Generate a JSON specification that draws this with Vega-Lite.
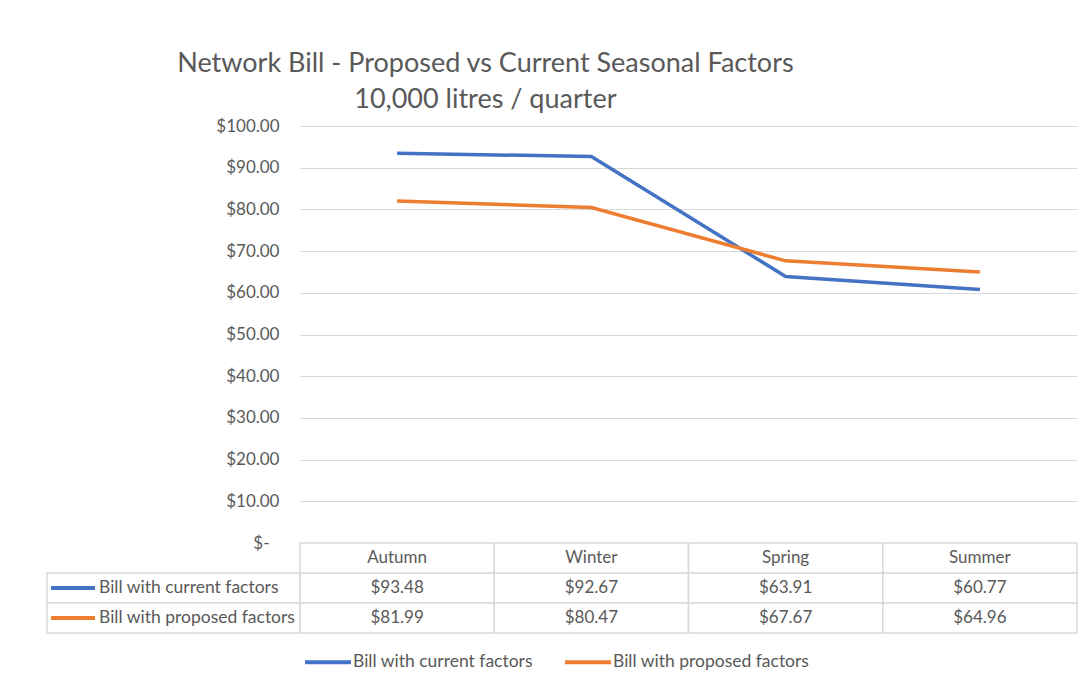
{
  "$schema": "https://vega.github.io/schema/vega-lite/v6.json",
  "background": "white",
  "padding": {"left": 43, "top": 50, "right": 10, "bottom": 10},
  "config": {"font": "Lato", "view": {"stroke": null}},
  "title": {
    "text": ["Network Bill - Proposed vs Current Seasonal Factors", "10,000 litres / quarter"],
    "fontSize": 27, "fontWeight": "normal", "color": "#595959",
    "anchor": "middle", "dx": -75, "lineHeight": 36, "offset": 3
  },
  "datasets": {
    "bills": [
      {"season": "Autumn", "series": "Bill with current factors", "value": 93.48},
      {"season": "Winter", "series": "Bill with current factors", "value": 92.67},
      {"season": "Spring", "series": "Bill with current factors", "value": 63.91},
      {"season": "Summer", "series": "Bill with current factors", "value": 60.77},
      {"season": "Autumn", "series": "Bill with proposed factors", "value": 81.99},
      {"season": "Winter", "series": "Bill with proposed factors", "value": 80.47},
      {"season": "Spring", "series": "Bill with proposed factors", "value": 67.67},
      {"season": "Summer", "series": "Bill with proposed factors", "value": 64.96}
    ]
  },
  "data": {"name": "bills"},
  "resolve": {"scale": {"color": "shared"}, "legend": {"color": "shared"}},
  "columns": 2,
  "bounds": "flush",
  "spacing": 0,
  "concat": [
    {
      "width": 253,
      "height": 417,
      "data": {"values": []},
      "mark": {"type": "point", "opacity": 0},
      "encoding": {}
    },
    {
      "width": 777,
      "height": 417,
      "mark": {"type": "line", "strokeWidth": 3.5},
      "encoding": {
        "x": {"field": "season", "type": "ordinal", "sort": ["Autumn", "Winter", "Spring", "Summer"], "scale": {"type": "point", "padding": 0.5}, "axis": null},
        "y": {
          "field": "value", "type": "quantitative",
          "scale": {"domain": [0, 100]},
          "axis": {
            "values": [0, 10, 20, 30, 40, 50, 60, 70, 80, 90, 100],
            "labelExpr": "datum.value === 0 ? '$-' : '$' + format(datum.value, '.2f')",
            "title": null, "domain": false, "ticks": false,
            "gridColor": "#d9d9d9",
            "labelPadding": {"condition": {"test": "datum.value === 0", "value": 31}, "value": 21},
            "labelFontSize": 17, "labelColor": "#595959"
          }
        },
        "color": {
          "field": "series", "type": "nominal",
          "scale": {"domain": ["Bill with current factors", "Bill with proposed factors"], "range": ["#4472C4", "#ED7D31"]},
          "legend": {
            "orient": "none", "legendX": 256, "legendY": 511, "direction": "horizontal", "title": null,
            "symbolType": "stroke", "symbolStrokeWidth": 4, "symbolSize": 2116,
            "labelFontSize": 17.5, "labelColor": "#595959", "columnPadding": 24, "labelOffset": 0, "labelLimit": 400
          }
        }
      }
    },
    {
      "width": 253,
      "height": 90,
      "transform": [{"filter": "datum.season === 'Autumn'"}],
      "layer": [
        {
          "mark": {"type": "rect", "fill": "white", "stroke": "#d9d9d9", "strokeWidth": 1.5},
          "encoding": {
            "y": {"field": "series", "type": "nominal", "scale": {"domain": ["header", "Bill with current factors", "Bill with proposed factors"], "paddingInner": 0, "paddingOuter": 0}, "axis": null}
          }
        },
        {
          "mark": {"type": "text", "align": "left", "dx": -74.5, "fontSize": 17.5, "color": "#595959"},
          "encoding": {
            "y": {"field": "series", "type": "nominal", "axis": null},
            "text": {"field": "series"}
          }
        },
        {
          "mark": {"type": "point", "shape": "stroke", "size": 1936, "strokeWidth": 4, "xOffset": -100.5, "filled": false, "opacity": 1},
          "encoding": {
            "y": {"field": "series", "type": "nominal", "axis": null},
            "color": {"field": "series", "type": "nominal"}
          }
        }
      ]
    },
    {
      "width": 777,
      "height": 90,
      "layer": [
        {
          "mark": {"type": "rect", "fill": "white", "stroke": "#d9d9d9", "strokeWidth": 1.5},
          "encoding": {
            "x": {"field": "season", "type": "nominal", "sort": ["Autumn", "Winter", "Spring", "Summer"], "scale": {"paddingInner": 0, "paddingOuter": 0}, "axis": null},
            "y": {"field": "series", "type": "nominal", "scale": {"domain": ["header", "Bill with current factors", "Bill with proposed factors"], "paddingInner": 0, "paddingOuter": 0}, "axis": null}
          }
        },
        {
          "transform": [{"filter": "datum.series === 'Bill with current factors'"}],
          "mark": {"type": "rect", "fill": "white", "stroke": "#d9d9d9", "strokeWidth": 1.5},
          "encoding": {
            "x": {"field": "season", "type": "nominal", "sort": ["Autumn", "Winter", "Spring", "Summer"], "axis": null},
            "y": {"datum": "header", "type": "nominal"}
          }
        },
        {
          "mark": {"type": "text", "fontSize": 17, "color": "#595959"},
          "encoding": {
            "x": {"field": "season", "type": "nominal", "sort": ["Autumn", "Winter", "Spring", "Summer"], "axis": null},
            "y": {"field": "series", "type": "nominal"},
            "text": {"field": "value", "type": "quantitative", "format": "$.2f"}
          }
        },
        {
          "transform": [{"filter": "datum.series === 'Bill with current factors'"}],
          "mark": {"type": "text", "fontSize": 17, "color": "#595959"},
          "encoding": {
            "x": {"field": "season", "type": "nominal", "sort": ["Autumn", "Winter", "Spring", "Summer"], "axis": null},
            "y": {"datum": "header", "type": "nominal"},
            "text": {"field": "season"}
          }
        }
      ]
    }
  ]
}
